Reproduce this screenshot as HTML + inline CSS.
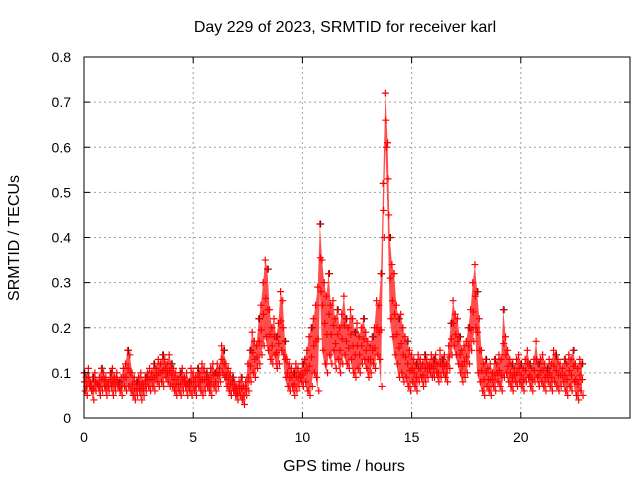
<!DOCTYPE html>
<html><head><meta charset="utf-8"><style>
body{margin:0;background:#fff;}
svg{display:block;font-family:"Liberation Sans",sans-serif;}
</style></head><body>
<svg id="chart" width="640" height="480" viewBox="0 0 640 480">
<text x="345" y="32" font-size="16" text-anchor="middle">Day 229 of 2023, SRMTID for receiver karl</text>
<text transform="translate(19,238) rotate(-90)" font-size="16" text-anchor="middle">SRMTID / TECUs</text>
<text x="344" y="471" font-size="16" text-anchor="middle">GPS time / hours</text>
<g id="grid"></g><g id="band"></g><g id="pts"></g><g id="axes"></g>
</svg>
<script>
const xTicks=[0,5,10,15,20];
const yTicks=[0,0.1,0.2,0.3,0.4,0.5,0.6,0.7,0.8];
const yTickLabels=["0","0.1","0.2","0.3","0.4","0.5","0.6","0.7","0.8"];
const step=0.1;
const upper=[.10,.09,.11,.08,.09,.10,.08,.09,.11,.10,.09,.08,.10,.11,.09,.10,.08,.09,.11,.12,
.15,.14,.10,.09,.08,.09,.10,.08,.09,.10,.11,.10,.12,.11,.13,.12,.14,.13,.12,.14,
.12,.11,.10,.09,.10,.11,.09,.10,.08,.11,.10,.09,.11,.10,.12,.11,.10,.09,.11,.12,
.10,.12,.11,.16,.15,.12,.11,.10,.09,.08,.07,.08,.09,.07,.08,.12,.15,.19,.17,.16,
.22,.25,.30,.35,.33,.24,.20,.22,.18,.21,.28,.26,.17,.13,.12,.11,.10,.12,.11,.10,
.12,.13,.15,.18,.20,.22,.25,.29,.43,.35,.30,.27,.32,.25,.26,.22,.24,.20,.23,.27,
.22,.20,.24,.22,.19,.21,.18,.20,.22,.19,.17,.16,.18,.20,.26,.25,.32,.52,.72,.61,
.40,.34,.32,.25,.22,.23,.20,.18,.17,.15,.14,.13,.12,.14,.13,.12,.14,.13,.12,.14,
.13,.14,.12,.15,.13,.14,.12,.16,.21,.26,.23,.22,.18,.15,.16,.17,.20,.24,.30,.34,
.28,.22,.15,.12,.13,.11,.12,.10,.13,.12,.14,.13,.24,.18,.15,.13,.12,.11,.13,.14,
.12,.11,.13,.15,.12,.11,.13,.17,.12,.13,.14,.12,.11,.13,.12,.15,.14,.13,.12,.11,
.13,.12,.14,.13,.15,.12,.11,.13,.12];
const lower=[.06,.05,.07,.06,.04,.06,.07,.05,.06,.07,.05,.06,.07,.05,.06,.07,.06,.05,.07,.06,
.07,.06,.05,.04,.05,.06,.04,.05,.06,.07,.06,.07,.06,.08,.07,.08,.07,.09,.08,.07,
.07,.06,.05,.06,.05,.06,.07,.05,.06,.05,.06,.05,.07,.06,.05,.06,.07,.06,.05,.07,
.06,.07,.08,.10,.09,.07,.06,.05,.06,.05,.04,.05,.04,.03,.05,.06,.08,.10,.09,.11,
.12,.14,.16,.18,.15,.13,.12,.14,.11,.12,.15,.14,.09,.07,.06,.07,.05,.06,.07,.08,
.07,.08,.06,.05,.07,.10,.09,.06,.28,.15,.12,.10,.14,.12,.15,.11,.13,.10,.12,.14,
.12,.11,.13,.10,.09,.11,.10,.12,.13,.11,.09,.10,.12,.11,.14,.13,.07,.40,.60,.45,
.22,.18,.14,.12,.09,.10,.08,.09,.07,.06,.08,.07,.06,.08,.09,.07,.08,.09,.10,.09,
.09,.10,.08,.09,.10,.09,.08,.11,.14,.16,.14,.12,.10,.08,.09,.10,.12,.15,.17,.20,
.10,.08,.06,.05,.07,.06,.05,.07,.06,.08,.07,.06,.09,.10,.08,.07,.06,.08,.07,.08,
.07,.06,.08,.09,.07,.06,.08,.09,.07,.08,.07,.06,.08,.07,.06,.08,.07,.06,.07,.08,
.06,.05,.07,.06,.08,.05,.04,.06,.05];
const L=84,R=630,T=57,B=418,XMAX=25,YMAX=0.8;
const sx=v=>L+v/XMAX*(R-L), sy=v=>B-v/YMAX*(B-T);
const NS="http://www.w3.org/2000/svg";
function mk(tag,attrs,parent){const e=document.createElementNS(NS,tag);for(const k in attrs)e.setAttribute(k,attrs[k]);parent.appendChild(e);return e;}
const grid=document.getElementById('grid'),axes=document.getElementById('axes'),band=document.getElementById('band'),pts=document.getElementById('pts');
xTicks.forEach(v=>{
 if(v>0){const g=mk('line',{x1:sx(v),x2:sx(v),y1:T,y2:B,stroke:'#a0a0a0','stroke-dasharray':'2,3'},grid);
 
 }
 const t=mk('text',{x:sx(v),y:B+24,'font-size':14,'text-anchor':'middle'},axes);t.textContent=v;
 
 
 mk('line',{x1:sx(v),x2:sx(v),y1:B,y2:B-6,stroke:'#000'},axes);
 mk('line',{x1:sx(v),x2:sx(v),y1:T,y2:T+6,stroke:'#000'},axes);
});
yTicks.forEach((v,i)=>{
 if(v>0&&v<YMAX){const g=mk('line',{x1:L,x2:R,y1:sy(v),y2:sy(v),stroke:'#a0a0a0','stroke-dasharray':'2,3'},grid);
 
 }
 const t=mk('text',{x:L-13,y:sy(v)+5,'font-size':14,'text-anchor':'end'},axes);t.textContent=yTickLabels[i];
 
 
 mk('line',{x1:L,x2:L+6,y1:sy(v),y2:sy(v),stroke:'#000'},axes);
 mk('line',{x1:R,x2:R-6,y1:sy(v),y2:sy(v),stroke:'#000'},axes);
});
const frame=mk('rect',{x:L,y:T,width:R-L,height:B-T,fill:'none',stroke:'#000'},axes);


let d='';upper.forEach((v,i)=>{d+=(i?'L':'M')+sx(i*step)+','+sy(v);});
for(let i=lower.length-1;i>=0;i--)d+='L'+sx(i*step)+','+sy(lower[i]);
const bp=mk('path',{d:d+'Z',fill:'#ff0000','fill-opacity':0.7},band);


function plus(x,y,col,name){
 const p=mk('path',{d:`M${x-3.5},${y}h7M${x},${y-3.5}v7`,stroke:col,'stroke-width':1.2},pts);
 
 
}
upper.forEach((v,i)=>{if(i%4===0)plus(sx(i*step+0.03),sy(v),'#000','black-point');});
upper.forEach((v,i)=>{plus(sx(i*step),sy(v),'#ff0000','red-point');});
lower.forEach((v,i)=>{plus(sx(i*step+0.05),sy(lower[i]),'#ff0000','red-point');
 plus(sx(i*step+0.02),sy((lower[i]+upper[i])/2),'#ff0000','red-point');});
</script>
</body></html>
